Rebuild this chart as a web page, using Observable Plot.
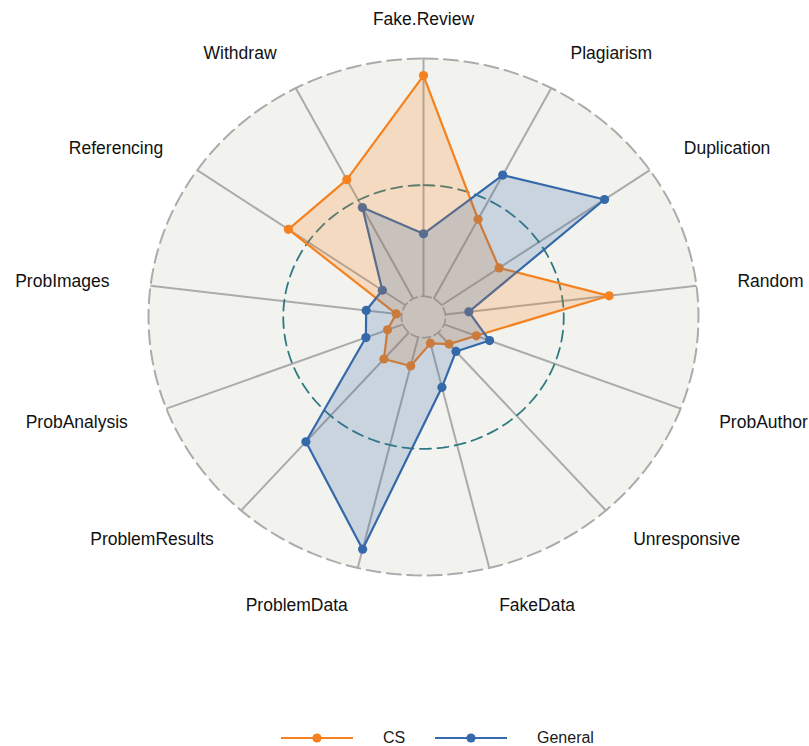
<!DOCTYPE html>
<html>
<head>
<meta charset="utf-8">
<script src="https://cdn.jsdelivr.net/npm/d3@7"></script>
<script src="https://cdn.jsdelivr.net/npm/@observablehq/plot@0.6"></script>
<style>
  html, body { margin: 0; padding: 0; background: #ffffff; }
  body { width: 809px; height: 746px; overflow: hidden; font-family: "Liberation Sans", Arial, Helvetica, sans-serif; }
  #chart svg { display: block; }
  #legend { position: relative; height: 36px; }
  .item { position: absolute; top: 0; height: 36px; display: flex; align-items: center; font-size: 16px; color: #1a1a1a; }
</style>
</head>
<body>
<div id="chart"></div>
<div id="legend"></div>
<script>
// ---- data ----
const axes = ["Fake.Review", "Plagiarism", "Duplication", "Random", "ProbAuthor", "Unresponsive",
  "FakeData", "ProblemData", "ProblemResults", "ProbAnalysis", "ProbImages", "Referencing", "Withdraw"];
const seriesNames = ["CS", "General"];
const csValues = [0.934, 0.427, 0.334, 0.680, 0.205, 0.140, 0.105, 0.195, 0.217, 0.140, 0.100, 0.597, 0.600];
const generalValues = [0.322, 0.620, 0.800, 0.166, 0.257, 0.178, 0.280, 0.925, 0.645, 0.224, 0.210, 0.182, 0.478];
const seriesColors = ["#F5821F", "#3569AA"];
const gridLevels = [0.08, 0.51, 1.0];   // inner, mid, outer rings
const labelRadius = 1.15;

// ---- build tables ----
const n = axes.length;
const angle = i => i * 2 * Math.PI / n;
const polar = (r, a) => ({x: r * Math.sin(a), y: r * Math.cos(a)});

const seriesValues = [csValues, generalValues];
const points = [];
seriesNames.forEach((s, k) => {
  seriesValues[k].forEach((v, i) => {
    points.push({series: s, axis: axes[i], value: v, ...polar(v, angle(i))});
  });
});
const ringPts = level => d3.range(0, 361, 2).map(deg => ({level, ...polar(level, deg * Math.PI / 180)}));
const rings = gridLevels.map(ringPts);
const spokes = axes.map((a, i) => {
  const p0 = polar(gridLevels[0], angle(i)), p1 = polar(gridLevels[2], angle(i));
  return {axis: a, x1: p0.x, y1: p0.y, x2: p1.x, y2: p1.y};
});
const labels = axes.map((a, i) => {
  const p = polar(labelRadius, angle(i));
  const s = Math.sin(angle(i));
  return {axis: a, ...p, anchor: Math.abs(s) < 0.05 ? "middle" : (s > 0 ? "start" : "end")};
});

const color = {domain: seriesNames, range: seriesColors};
const bySeries = s => points.filter(d => d.series === s);

const chart = Plot.plot({
  width: 809,
  height: 720,
  margin: 0,
  x: {domain: [-1, 1], range: [148, 698], axis: null},
  y: {domain: [-1, 1], range: [575, 58], axis: null},
  color: color,
  style: {fontFamily: '"Liberation Sans", Arial, Helvetica, sans-serif', background: "white"},
  marks: [
    // background disc
    Plot.line(rings[2], {x: "x", y: "y", fill: "#F2F2EE", stroke: "none"}),
    // spokes
    Plot.link(spokes, {x1: "x1", y1: "y1", x2: "x2", y2: "y2", stroke: "#ABABAB", strokeWidth: 2}),
    // inner ring
    Plot.line(rings[0], {x: "x", y: "y", stroke: "#ABABAB", strokeWidth: 1.8, strokeDasharray: "8,4"}),
    // mid ring
    Plot.line(rings[1], {x: "x", y: "y", stroke: "#2E7A80", strokeWidth: 1.8, strokeDasharray: "11,6.5"}),
    // outer ring
    Plot.line(rings[2], {x: "x", y: "y", stroke: "#ABABAB", strokeWidth: 2, strokeDasharray: "14,6.5"}),
    // series outlines
    ...seriesNames.map(s => Plot.line(bySeries(s), {x: "x", y: "y", stroke: "series", strokeWidth: 2.2, curve: "linear-closed"})),
    // series points
    ...seriesNames.map(s => Plot.dot(bySeries(s), {x: "x", y: "y", fill: "series", r: 4.6})),
    // translucent fills (drawn last, as in the reference)
    ...seriesNames.map(s => Plot.line(bySeries(s), {x: "x", y: "y", fill: "series", fillOpacity: 0.22, stroke: "none", curve: "linear-closed"})),
    // axis labels
    ...["start", "middle", "end"].map(anc => Plot.text(labels.filter(d => d.anchor === anc), {
      x: "x", y: "y", text: "axis", textAnchor: anc, fontSize: 17.5, fill: "#111111"
    }))
  ]
});
document.getElementById("chart").appendChild(chart);

// ---- legend ----
const legend = document.getElementById("legend");
const itemLefts = [281, 435];
const textLefts = [383, 537];
seriesNames.forEach((s, k) => {
  const key = document.createElement("div");
  key.className = "item";
  key.style.left = itemLefts[k] + "px";
  key.innerHTML = `<svg width="72" height="20"><line x1="0" y1="10" x2="72" y2="10" stroke="${seriesColors[k]}" stroke-width="2.2"/><circle cx="36" cy="10" r="4.6" fill="${seriesColors[k]}"/></svg>`;
  legend.appendChild(key);
  const txt = document.createElement("div");
  txt.className = "item";
  txt.style.left = textLefts[k] + "px";
  txt.textContent = s;
  legend.appendChild(txt);
});
</script>
</body>
</html>
